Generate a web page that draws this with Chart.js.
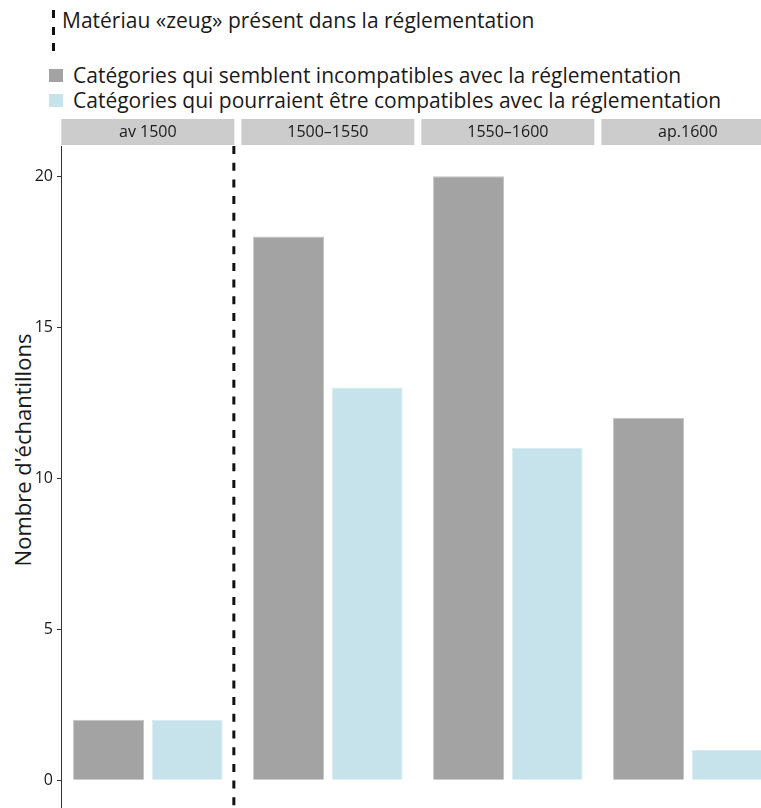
<!DOCTYPE html>
<html>
<head>
<meta charset="utf-8">
<script src="https://cdn.jsdelivr.net/npm/chart.js@4.4.1/dist/chart.umd.min.js"></script>
<style>
  html, body { margin:0; padding:0; background:#fff; overflow:hidden; width:761px; height:808px; }
  body { font-family:"Open Sans", sans-serif; color:#1a1a1a; position:relative; }
  #wrap { position:absolute; left:0; top:0; width:761px; height:824px; }
  .leg { position:absolute; white-space:nowrap; font-size:21px; line-height:1.362; }
  .dash { position:absolute; left:52px; top:10px; width:3px; height:43px;
    background:repeating-linear-gradient(to bottom,#111 0 8px,transparent 8px 16.7px); }
  .sq { position:absolute; left:49px; width:14px; height:13px; }
  #ytitle { position:absolute; left:22px; top:450px; transform:translate(-50%,-50%) rotate(-90deg); font-size:22px; white-space:nowrap; }
</style>
</head>
<body>
<div class="dash"></div>
<div class="leg" style="left:62px;top:6px;">Matériau «zeug» présent dans la réglementation</div>
<div class="sq" style="top:69px;background:#a3a3a3;"></div>
<div class="leg" style="left:73px;top:61px;">Catégories qui semblent incompatibles avec la réglementation</div>
<div class="sq" style="top:94px;background:#c6e3ec;"></div>
<div class="leg" style="left:73px;top:86px;">Catégories qui pourraient être compatibles avec la réglementation</div>
<div id="ytitle">Nombre d'échantillons</div>
<div id="wrap"><canvas id="c"></canvas></div>
<script>
const periods = ['av 1500', '1500–1550', '1550–1600', 'ap.1600'];
const incompatibles = [2, 18, 20, 12];
const compatibles = [2, 13, 11, 1];
const yTicks = [0, 5, 10, 15, 20];

const facetPlugin = {
  id:'facets',
  beforeDraw(chart){
    const ctx = chart.ctx, x = chart.scales.x, half = 86.5;
    ctx.save();
    ctx.fillStyle = '#cccccc';
    periods.forEach((p, i) => {
      const c = x.getPixelForValue(i + 1);
      ctx.fillRect(c - half, 119, half * 2, 26);
    });
    ctx.restore();
  },
  afterDatasetsDraw(chart){
    const ctx = chart.ctx, a = chart.chartArea;
    const px = chart.scales.x.getPixelForValue(1) + 86;
    ctx.save();
    ctx.strokeStyle = '#111';
    ctx.lineWidth = 3;
    ctx.setLineDash([8, 8.7]);
    ctx.beginPath();
    ctx.moveTo(px, a.top);
    ctx.lineTo(px, a.bottom);
    ctx.stroke();
    ctx.restore();
  }
};

new Chart(document.getElementById('c').getContext('2d'), {
  type:'bar',
  data:{
    datasets:[
      { label:'Catégories qui semblent incompatibles avec la réglementation',
        data:incompatibles.map((v, i) => ({ x:i + 1, y:v })),
        backgroundColor:'#a3a3a3', borderColor:'#c4c4c4', borderWidth:1 },
      { label:'Catégories qui pourraient être compatibles avec la réglementation',
        data:compatibles.map((v, i) => ({ x:i + 1, y:v })),
        backgroundColor:'#c6e3ec', borderColor:'#d6ecf2', borderWidth:1 }
    ]
  },
  options:{
    responsive:true, maintainAspectRatio:false, animation:false,
    categoryPercentage:0.874, barPercentage:0.902,
    layout:{ padding:{ top:119, left:0, right:0, bottom:0 } },
    plugins:{ legend:{ display:false }, tooltip:{ enabled:false } },
    scales:{
      x:{
        type:'linear', position:'top', min:0.5175, max:4.4064, offset:false,
        afterBuildTicks: s => { s.ticks = periods.map((p, i) => ({ value:i + 1 })); },
        afterFit: s => { s.height = 27; },
        grid:{ display:false, drawTicks:false }, border:{ display:false },
        ticks:{ padding:4, color:'#1a1a1a', font:{ family:'Open Sans', size:16 },
          callback: v => periods[v - 1] }
      },
      y:{
        min:-1, max:21,
        afterBuildTicks: s => { s.ticks = yTicks.map(v => ({ value:v })); },
        afterFit: s => { s.width = 61; },
        grid:{ drawOnChartArea:false, drawTicks:true, tickLength:4, color:'#333' },
        border:{ display:true, color:'#333', width:1 },
        ticks:{ padding:4, color:'#1a1a1a', font:{ family:'Open Sans', size:16 } }
      }
    }
  },
  plugins:[facetPlugin]
});
</script>
</body>
</html>
